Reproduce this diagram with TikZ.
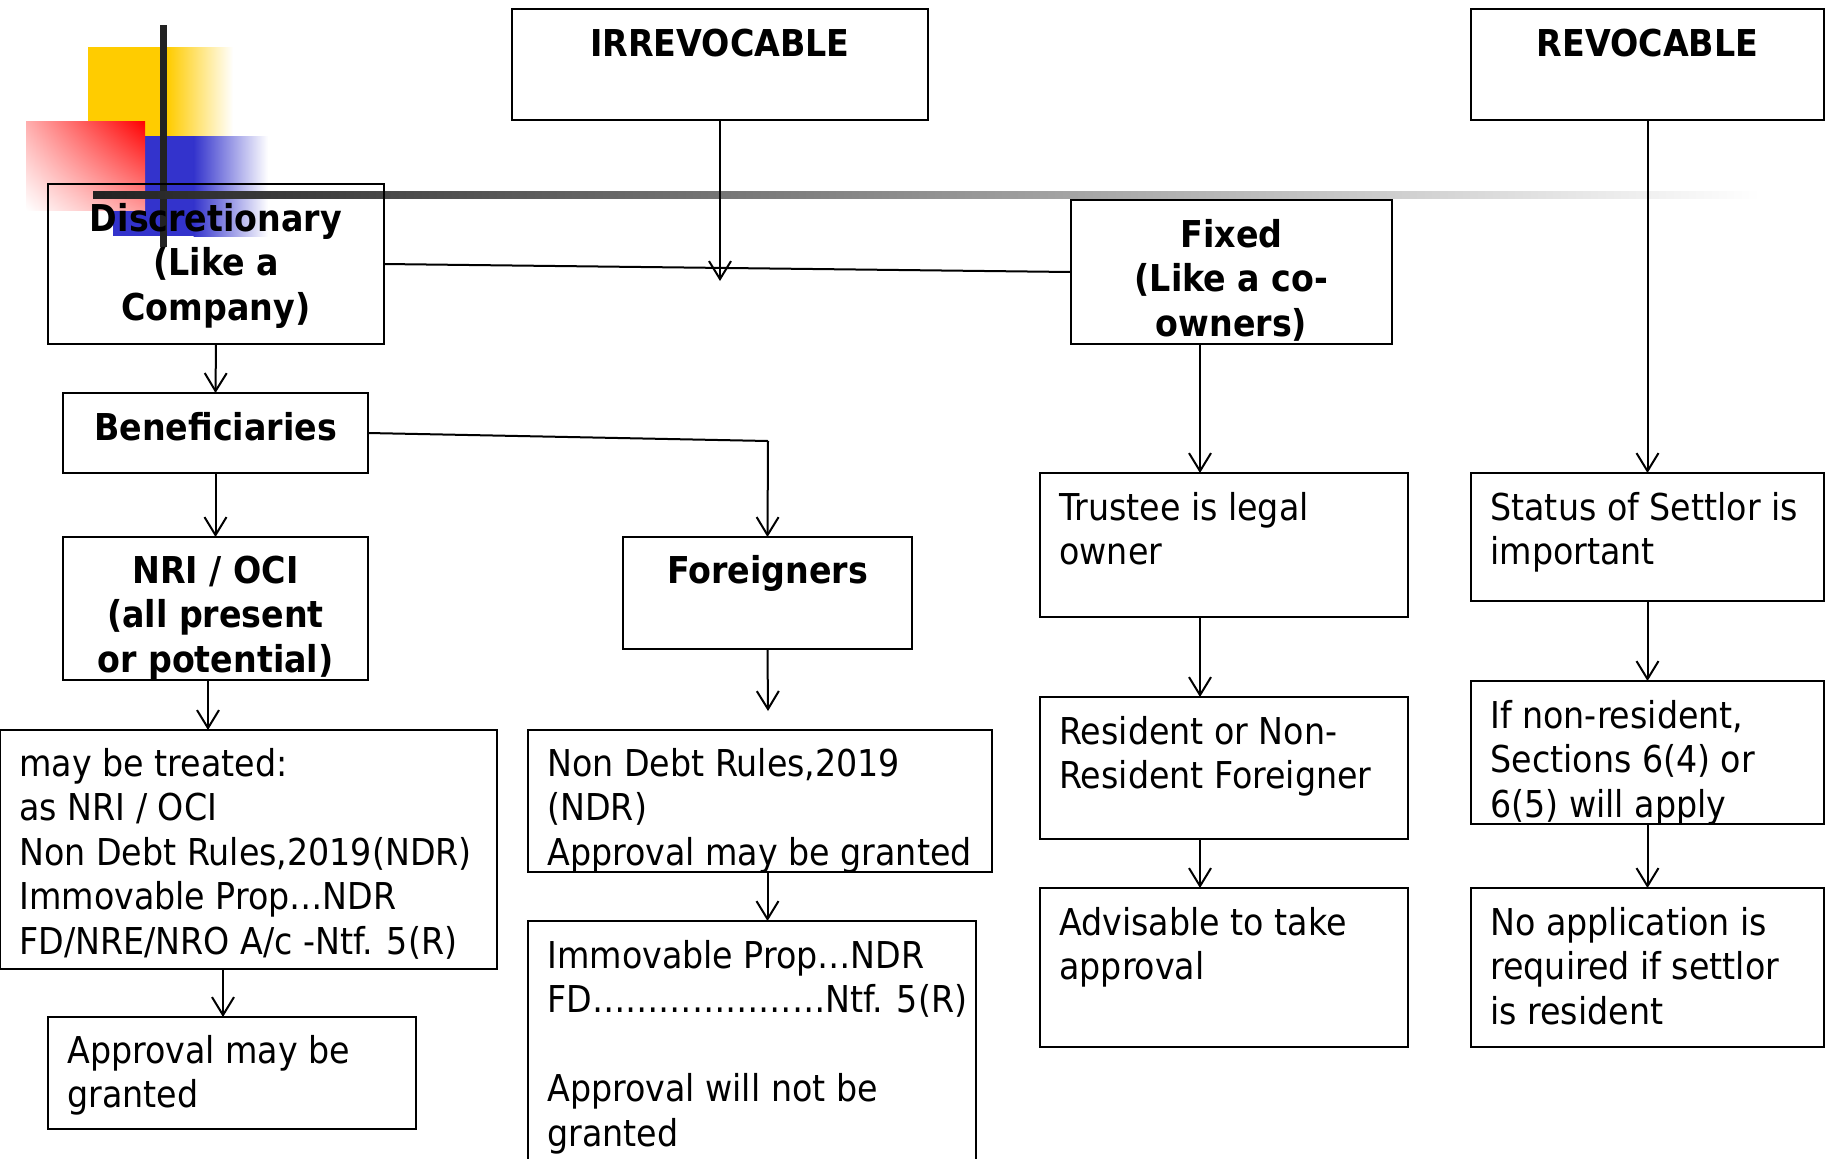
\documentclass[tikz,border=0pt]{standalone}
\usepackage{fontspec}
\setmainfont{DejaVu Sans Condensed}
\usetikzlibrary{arrows.meta,fit,calc,shadings}

\definecolor{decoYellow}{RGB}{255,204,0}
\definecolor{decoBlue}{RGB}{51,51,204}
\definecolor{decoRed}{RGB}{255,0,0}
\definecolor{barGray}{RGB}{34,34,34}

% text blocks: first line's baseline is the block's baseline
\newcommand\boxleft[1]{\parbox[t]{260pt}{\raggedright #1}}
\newcommand\boxcenter[1]{\parbox[t]{200pt}{\centering #1}}
% framed panel spanning two corners (pixel units, y downwards)
\newcommand\panel[5]{%
  \coordinate (#1-a) at (#2,#3);
  \coordinate (#1-b) at (#4,#5);
  \node[frame, fit=(#1-a)(#1-b)] (#1) {};}

\begin{document}
\begin{tikzpicture}[x=0.5pt, y=-0.5pt,
  frame/.style={draw, line width=1pt, inner sep=0pt, outer sep=0pt},
  body/.style={inner sep=0pt, anchor=base west,
    font=\fontsize{18.5pt}{22.3pt}\selectfont},
  head/.style={inner sep=0pt, anchor=base,
    font=\bfseries\fontsize{18.5pt}{22.3pt}\selectfont},
  link/.style={line width=1pt},
  arr/.style={line width=1pt, -{Straight Barb[length=9pt,width=11pt]}}]

\useasboundingbox (0,0) rectangle (1828,1158);
\clip (0,0) rectangle (1828,1158);

% ---- corner ornament ----
\fill[decoYellow] (88,47) rectangle (168,136);
\shade[left color=decoYellow, right color=white] (167.5,47) rectangle (233,136);
\fill[decoBlue] (113,136) rectangle (194,236);
\shade[left color=decoBlue, right color=white] (193.5,136) rectangle (268,236);
\shade[upper right=decoRed, upper left=decoRed!32, lower left=white,
       lower right=decoRed!40] (26,121) rectangle (145,210);
\fill[barGray] (160,25) rectangle (167,247);
\shade[left color=barGray, right color=white] (93,191) rectangle (1760,198);

% ---- panels ----
\panel{irr}{512}{9}{928}{120}
\panel{rev}{1471}{9}{1824}{120}
\panel{disc}{48}{184}{384}{344}
\panel{fixed}{1071}{200}{1392}{344}
\panel{ben}{63}{393}{368}{473}
\panel{nri}{63}{537}{368}{680}
\panel{frn}{623}{537}{912}{649}
\panel{may}{0}{730}{497}{969}
\panel{appr}{48}{1017}{416}{1129}
\panel{ndr}{528}{730}{992}{872}
\panel{imm}{528}{921}{976}{1180}
\panel{trustee}{1040}{473}{1408}{617}
\panel{resid}{1040}{697}{1408}{839}
\panel{advis}{1040}{888}{1408}{1047}
\panel{status}{1471}{473}{1824}{601}
\panel{ifnr}{1471}{681}{1824}{824}
\panel{noapp}{1471}{888}{1824}{1047}

% ---- headings ----
\node[head] at ([shift={(0,47)}]irr.north) {\boxcenter{IRREVOCABLE}};
\node[head] at ([shift={(0,47)}]rev.north) {\boxcenter{REVOCABLE}};
\node[head] at ([shift={(0,47)}]disc.north) {\boxcenter{Discretionary\\(Like a\\Company)}};
\node[head] at ([shift={(0,47)}]fixed.north) {\boxcenter{Fixed\\(Like a co-\\owners)}};
\node[head] at ([shift={(0,47)}]ben.north) {\boxcenter{Beneficiaries}};
\node[head] at ([shift={(0,46)}]nri.north) {\boxcenter{NRI / OCI\\(all present\\or potential)}};
\node[head] at ([shift={(0,46)}]frn.north) {\boxcenter{Foreigners}};

% ---- body texts ----
\node[body] at ([shift={(19,46)}]may.north west)
  {\boxleft{may be treated:\\as NRI / OCI\\Non Debt Rules,2019(NDR)\\Immovable Prop…NDR\\FD/NRE/NRO A/c -Ntf. 5(R)}};
\node[body] at ([shift={(19,46)}]appr.north west) {\boxleft{Approval may be\\granted}};
\node[body] at ([shift={(19,46)}]ndr.north west)
  {\boxleft{Non Debt Rules,2019\\(NDR)\\Approval may be granted}};
\node[body] at ([shift={(19,47)}]imm.north west)
  {\boxleft{Immovable Prop…NDR\\FD…………………Ntf. 5(R)\\[22.3pt]Approval will not be\\granted}};
\node[body] at ([shift={(19,47)}]trustee.north west) {\boxleft{Trustee is legal\\owner}};
\node[body] at ([shift={(19,47)}]resid.north west) {\boxleft{Resident or Non-\\Resident Foreigner}};
\node[body] at ([shift={(19,47)}]advis.north west) {\boxleft{Advisable to take\\approval}};
\node[body] at ([shift={(19,47)}]status.north west) {\boxleft{Status of Settlor is\\important}};
\node[body] at ([shift={(19,47)}]ifnr.north west) {\boxleft{If non-resident,\\Sections 6(4) or\\6(5) will apply}};
\node[body] at ([shift={(19,47)}]noapp.north west) {\boxleft{No application is\\required if settlor\\is resident}};

% ---- connectors ----
\coordinate (irrEnd) at (720,281);
\coordinate (benTurn) at (768,441);
\coordinate (frnEnd) at (768,711);
\coordinate (colNri) at (208,0);
\coordinate (colMay) at (223,0);
\coordinate (colFix) at (1200,0);

\draw[link] (disc.east) -- (fixed.west);
\draw[arr] (irr.south) -- (irrEnd);
\draw[arr] (disc.south) -- (ben.north);
\draw[arr] (ben.south) -- (nri.north);
\draw[link] (ben.east) -- (benTurn);
\draw[arr] (benTurn) -- (frn.north);
\draw[arr] (frn.south) -- (frnEnd);
\draw[arr] (ndr.south -| frn.south) -- (imm.north -| frn.south);
\draw[arr] (nri.south -| colNri) -- (may.north -| colNri);
\draw[arr] (may.south -| colMay) -- (appr.north -| colMay);
\draw[arr] (fixed.south -| colFix) -- (trustee.north -| colFix);
\draw[arr] (trustee.south -| colFix) -- (resid.north -| colFix);
\draw[arr] (resid.south -| colFix) -- (advis.north -| colFix);
\draw[arr] (rev.south) -- (status.north);
\draw[arr] (status.south) -- (ifnr.north);
\draw[arr] (ifnr.south) -- (noapp.north);
\end{tikzpicture}
\end{document}
